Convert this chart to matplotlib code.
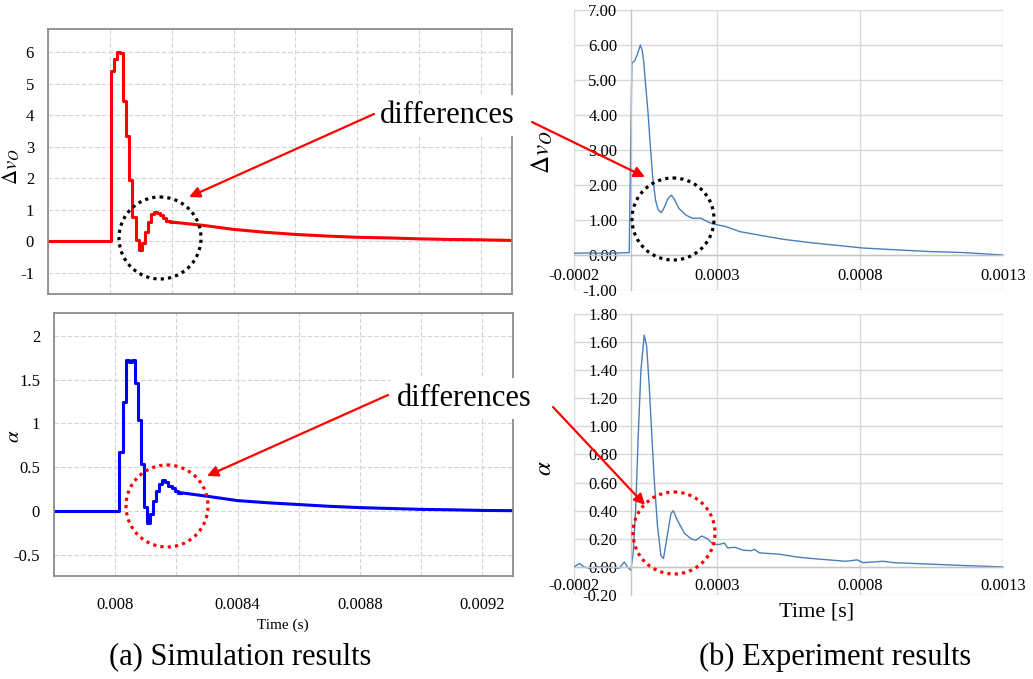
import matplotlib.pyplot as plt
import matplotlib.patches as patches
from matplotlib.ticker import MultipleLocator, FormatStrFormatter

plt.rcParams['font.family'] = ['Liberation Serif', 'DejaVu Serif']
plt.rcParams['mathtext.fontset'] = 'stix'
plt.rcParams['axes.unicode_minus'] = False

# --- simulation (10 us solver step, drawn as a staircase) ---
sim_dv_step_t = [0.0078, 0.008003, 0.008013, 0.008023, 0.008033, 0.008043, 0.008053,
                 0.008063, 0.008073, 0.008083, 0.008093, 0.008103, 0.008113, 0.008123,
                 0.008133, 0.008143, 0.008153, 0.008163, 0.008173, 0.008183, 0.008193,
                 0.008203]
sim_dv_step_v = [0.0, 5.40, 5.78, 6.00, 5.97, 4.45, 3.35, 1.95, 0.75, 0.02, -0.27,
                 -0.05, 0.30, 0.60, 0.85, 0.93, 0.90, 0.82, 0.72, 0.64, 0.60, 0.60]
sim_dv_tail_t = [0.008203, 0.0083, 0.0084, 0.0085, 0.0086, 0.0087, 0.0088, 0.0089,
                 0.0090, 0.0091, 0.0092, 0.0093]
sim_dv_tail_v = [0.60, 0.50, 0.37, 0.28, 0.21, 0.16, 0.12, 0.10, 0.07, 0.05, 0.04, 0.02]

sim_a_step_t = [0.0078, 0.008014, 0.008024, 0.008034, 0.008044, 0.008054, 0.008064,
                0.008074, 0.008084, 0.008094, 0.008104, 0.008114, 0.008124, 0.008134,
                0.008144, 0.008154, 0.008164, 0.008174, 0.008184, 0.008194, 0.008204,
                0.008214]
sim_a_step_v = [0.0, 0.68, 1.24, 1.72, 1.70, 1.72, 1.46, 1.04, 0.54, 0.05, -0.13,
                -0.03, 0.11, 0.23, 0.31, 0.35, 0.33, 0.29, 0.26, 0.23, 0.21, 0.21]
sim_a_tail_t = [0.008214, 0.0083, 0.0084, 0.0085, 0.0086, 0.0087, 0.0088, 0.0089,
                0.0090, 0.0091, 0.0092, 0.0093]
sim_a_tail_v = [0.21, 0.17, 0.12, 0.095, 0.075, 0.055, 0.04, 0.03, 0.02, 0.015, 0.008, 0.005]

sim_xticks = [0.008, 0.0084, 0.0088, 0.0092]

# --- experiment (scope capture) ---
exp_dv_t = [-0.0002, -0.00015, -0.0001, -0.00005, -0.000007, 0.0000024, 0.000012,
            0.000021, 0.000032, 0.000038, 0.000044, 0.000049, 0.000059, 0.000067,
            0.000075, 0.000085, 0.000094, 0.000105, 0.000114, 0.000129, 0.00014,
            0.000149, 0.000167, 0.000191, 0.000214, 0.000244, 0.000267, 0.000285,
            0.000332, 0.000379, 0.00046, 0.00053, 0.00063, 0.00075, 0.00081, 0.00092,
            0.00104, 0.00116, 0.0013]
exp_dv_v = [0.05, 0.06, 0.05, 0.06, 0.067, 5.48, 5.55, 5.72, 6.00, 5.86, 5.52, 5.00,
            4.05, 3.10, 2.24, 1.57, 1.29, 1.21, 1.33, 1.62, 1.71, 1.62, 1.33, 1.14,
            1.05, 1.05, 0.95, 0.89, 0.81, 0.67, 0.55, 0.45, 0.35, 0.25, 0.20, 0.15,
            0.10, 0.07, 0.0]

exp_a_t = [-0.0002, -0.00018, -0.000166, -0.000145, -0.00012, -0.00009, -0.00006,
           -0.000042, -0.0000245, -0.000013, -0.0000012, 0.000007, 0.000016, 0.0000245,
           0.000034, 0.0000455, 0.000054, 0.000063, 0.000071, 0.0000805, 0.000092,
           0.000104, 0.000113, 0.000125, 0.000139, 0.000147, 0.000162, 0.000186,
           0.000209, 0.000226, 0.000247, 0.000267, 0.000287, 0.000308, 0.000326,
           0.000337, 0.000361, 0.00039, 0.000419, 0.000431, 0.000448, 0.000483,
           0.00052, 0.00058, 0.00063, 0.00069, 0.00075, 0.00079, 0.00081, 0.00088,
           0.00092, 0.00104, 0.00116, 0.0013]
exp_a_v = [0.0, 0.025, 0.0, -0.01, 0.0, 0.0, -0.005, -0.01, 0.035, 0.0, -0.025, 0.10,
           0.43, 0.93, 1.40, 1.65, 1.57, 1.29, 0.98, 0.62, 0.29, 0.08, 0.06, 0.21, 0.38,
           0.40, 0.33, 0.24, 0.20, 0.19, 0.22, 0.20, 0.16, 0.16, 0.17, 0.135, 0.14, 0.12,
           0.115, 0.125, 0.10, 0.095, 0.09, 0.07, 0.06, 0.05, 0.04, 0.05, 0.03, 0.04,
           0.03, 0.02, 0.01, 0.0]

exp_xticks = [-0.0002, 0.0003, 0.0008, 0.0013]

W, H = 1033, 679
fig = plt.figure(figsize=(W / 100, H / 100), dpi=100)


def px_axes(x0, y0, x1, y1):
    # axes from pixel box (top-left origin)
    return fig.add_axes([x0 / W, 1 - y1 / H, (x1 - x0) / W, (y1 - y0) / H])


def sim_axes(ax, step_t, step_v, tail_t, tail_v, color, ylim, ystep):
    ax.plot(step_t, step_v, drawstyle='steps-post', color=color, lw=2.2)
    ax.plot(tail_t, tail_v, color=color, lw=2.2)
    ax.set_xlim(0.0078, 0.0093)
    ax.set_ylim(*ylim)
    ax.set_xticks(sim_xticks)
    ax.xaxis.set_minor_locator(MultipleLocator(0.0002))
    ax.yaxis.set_major_locator(MultipleLocator(ystep))
    ax.xaxis.set_major_formatter(FormatStrFormatter('%g'))
    ax.yaxis.set_major_formatter(FormatStrFormatter('%g'))
    ax.grid(True, which='both', color='#d4d4d4', ls=(0, (4, 2)), lw=0.8)
    ax.set_axisbelow(True)
    for s in ax.spines.values():
        s.set_color('#8c8c8c')
        s.set_linewidth(1.3)
    ax.tick_params(which='both', length=0, labelsize=12, pad=10)


def exp_axes(ax, t, v, ylim, ystep, xpad, ypad):
    ax.plot(t, v, color='#4a7ebb', lw=1.0)
    ax.set_xlim(-0.0002, 0.0013)
    ax.set_ylim(*ylim)
    ax.set_xticks(exp_xticks)
    ax.yaxis.set_major_locator(MultipleLocator(ystep))
    ax.xaxis.set_major_formatter(FormatStrFormatter('%.4f'))
    ax.yaxis.set_major_formatter(FormatStrFormatter('%.2f'))
    ax.grid(True, color='#d9d9d9', lw=1.0)
    ax.set_axisbelow(True)
    ax.spines['left'].set_position(('data', 0))
    ax.spines['bottom'].set_position(('data', 0))
    for k in ('left', 'bottom'):
        ax.spines[k].set_color('#c4c4c4')
        ax.spines[k].set_linewidth(1.0)
    for k in ('top', 'right'):
        ax.spines[k].set_visible(False)
    ax.tick_params(axis='x', length=0, labelsize=12, pad=xpad)
    ax.tick_params(axis='y', length=0, labelsize=12, pad=ypad)


# (a) simulation
ax1 = px_axes(48, 29, 512, 294)
sim_axes(ax1, sim_dv_step_t, sim_dv_step_v, sim_dv_tail_t, sim_dv_tail_v,
         '#ff0000', (-1.68, 6.73), 1)
ax1.set_xticklabels([])
ax1.set_ylabel(r'$\Delta v_O$', fontsize=15)
ax1.yaxis.set_label_coords(-0.055, 0.48)

ax2 = px_axes(54, 313, 513, 576)
sim_axes(ax2, sim_a_step_t, sim_a_step_v, sim_a_tail_t, sim_a_tail_v,
         '#0000ff', (-0.74, 2.26), 0.5)
ax2.tick_params(axis='x', pad=15)
ax2.set_ylabel(r'$\alpha$', fontsize=15)
ax2.yaxis.set_label_coords(-0.065, 0.53)

# (b) experiment
ax3 = px_axes(574, 10, 1003, 290)
exp_axes(ax3, exp_dv_t, exp_dv_v, (-1, 7), 1, 9, 10)
ax3.set_ylabel(r'$\Delta v_O$', fontsize=18)
ax3.yaxis.set_label_coords(-0.044, 0.49)

ax4 = px_axes(574, 314, 1003, 595)
exp_axes(ax4, exp_a_t, exp_a_v, (-0.2, 1.8), 0.2, 8, 10)
ax4.set_ylabel(r'$\alpha$', fontsize=18)
ax4.yaxis.set_label_coords(-0.042, 0.45)

# overlay in pixel coordinates for the callouts and captions
ov = fig.add_axes([0, 0, 1, 1])
ov.set_xlim(0, W)
ov.set_ylim(H, 0)
ov.axis('off')

dots = (0, (1, 1.3))
ov.add_patch(patches.Circle((160, 238), 41, fill=False, ec='black', lw=2.3, ls=dots))
ov.add_patch(patches.Circle((673, 219), 41, fill=False, ec='black', lw=2.3, ls=dots))
ov.add_patch(patches.Circle((167, 506), 41, fill=False, ec='#ff0000', lw=2.3, ls=dots))
ov.add_patch(patches.Circle((674, 533), 41, fill=False, ec='#ff0000', lw=2.3, ls=dots))

box = dict(boxstyle='square,pad=0.2', fc='white', ec='none')
ov.text(380, 123, 'differences', fontsize=22, va='baseline', ha='left', bbox=box)
ov.text(397, 406, 'differences', fontsize=22, va='baseline', ha='left', bbox=box)

arrow = dict(arrowstyle='-|>', color='#ff0000', lw=1.6, mutation_scale=16,
             shrinkA=0, shrinkB=0)
ov.annotate('', xy=(189, 197), xytext=(374, 114), arrowprops=arrow)
ov.annotate('', xy=(645, 177), xytext=(532, 122), arrowprops=arrow)
ov.annotate('', xy=(207, 476), xytext=(388, 395), arrowprops=arrow)
ov.annotate('', xy=(645, 505), xytext=(553, 407), arrowprops=arrow)

ov.text(283, 625, 'Time (s)', fontsize=11, ha='center', va='center')
ov.text(817, 612, 'Time [s]', fontsize=16, ha='center', va='center')
ov.text(240, 657, '(a) Simulation results', fontsize=22, ha='center', va='center')
ov.text(835, 657, '(b) Experiment results', fontsize=22, ha='center', va='center')

fig.savefig('out.png', dpi=100)
